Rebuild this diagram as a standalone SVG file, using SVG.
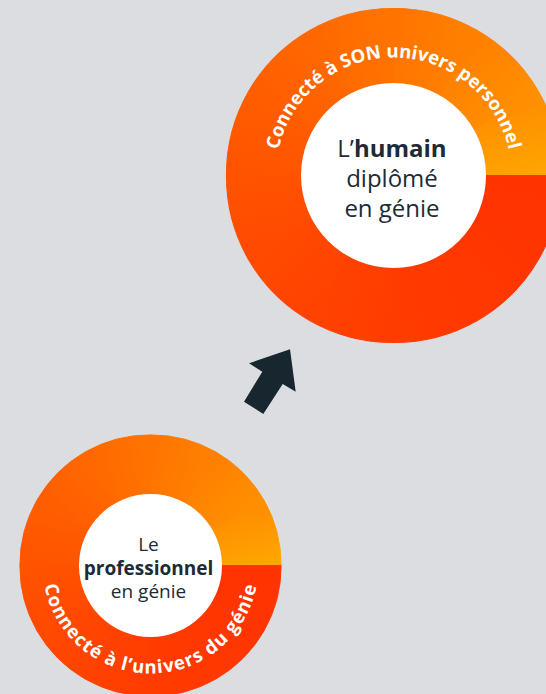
<svg xmlns="http://www.w3.org/2000/svg" xmlns:xlink="http://www.w3.org/1999/xlink" width="546" height="694" viewBox="0 0 546 694">
<style>
.center{font-family:"Open Sans","Liberation Sans",sans-serif;fill:#1c2b36;text-anchor:middle}
.b{font-weight:700}
.arc{font-family:"Open Sans","Liberation Sans",sans-serif;font-weight:700;fill:#ffffff;font-size:18.5px}
.hole{fill:#ffffff}
.w{stroke-width:0.007;stroke-linejoin:round}
</style>
<defs>
<linearGradient id="g0" gradientUnits="userSpaceOnUse" x1="0.8" y1="0" x2="0.693" y2="0.4"><stop offset="0" stop-color="#ff3300"/><stop offset="1" stop-color="#ff3500"/></linearGradient>
<linearGradient id="g1" gradientUnits="userSpaceOnUse" x1="0.693" y1="0.4" x2="0.4" y2="0.693"><stop offset="0" stop-color="#ff3500"/><stop offset="1" stop-color="#ff3800"/></linearGradient>
<linearGradient id="g2" gradientUnits="userSpaceOnUse" x1="0.4" y1="0.693" x2="0" y2="0.8"><stop offset="0" stop-color="#ff3800"/><stop offset="1" stop-color="#ff3c00"/></linearGradient>
<linearGradient id="g3" gradientUnits="userSpaceOnUse" x1="0" y1="0.8" x2="-0.4" y2="0.693"><stop offset="0" stop-color="#ff3c00"/><stop offset="1" stop-color="#ff4200"/></linearGradient>
<linearGradient id="g4" gradientUnits="userSpaceOnUse" x1="-0.4" y1="0.693" x2="-0.693" y2="0.4"><stop offset="0" stop-color="#ff4200"/><stop offset="1" stop-color="#ff4a00"/></linearGradient>
<linearGradient id="g5" gradientUnits="userSpaceOnUse" x1="-0.693" y1="0.4" x2="-0.8" y2="0"><stop offset="0" stop-color="#ff4a00"/><stop offset="1" stop-color="#ff5300"/></linearGradient>
<linearGradient id="g6" gradientUnits="userSpaceOnUse" x1="-0.8" y1="0" x2="-0.693" y2="-0.4"><stop offset="0" stop-color="#ff5300"/><stop offset="1" stop-color="#ff5d00"/></linearGradient>
<linearGradient id="g7" gradientUnits="userSpaceOnUse" x1="-0.693" y1="-0.4" x2="-0.4" y2="-0.693"><stop offset="0" stop-color="#ff5d00"/><stop offset="1" stop-color="#ff6800"/></linearGradient>
<linearGradient id="g8" gradientUnits="userSpaceOnUse" x1="-0.4" y1="-0.693" x2="0" y2="-0.8"><stop offset="0" stop-color="#ff6800"/><stop offset="1" stop-color="#ff7400"/></linearGradient>
<linearGradient id="g9" gradientUnits="userSpaceOnUse" x1="0" y1="-0.8" x2="0.4" y2="-0.693"><stop offset="0" stop-color="#ff7400"/><stop offset="1" stop-color="#ff8000"/></linearGradient>
<linearGradient id="g10" gradientUnits="userSpaceOnUse" x1="0.4" y1="-0.693" x2="0.693" y2="-0.4"><stop offset="0" stop-color="#ff8000"/><stop offset="1" stop-color="#ff8e00"/></linearGradient>
<linearGradient id="g11" gradientUnits="userSpaceOnUse" x1="0.693" y1="-0.4" x2="0.8" y2="0"><stop offset="0" stop-color="#ff8e00"/><stop offset="1" stop-color="#ffa500"/></linearGradient>
<g id="ring">
<path class="w" d="M0 0L.866 -.5A.997 .997 0 0 1 .997 0Z" fill="url(#g11)" stroke="url(#g11)"/>
<path class="w" d="M0 0L.5 -.866A.997 .997 0 0 1 .866 -.5Z" fill="url(#g10)" stroke="url(#g10)"/>
<path class="w" d="M0 0L0 -.997A.997 .997 0 0 1 .5 -.866Z" fill="url(#g9)" stroke="url(#g9)"/>
<path class="w" d="M0 0L-.5 -.866A.997 .997 0 0 1 0 -.997Z" fill="url(#g8)" stroke="url(#g8)"/>
<path class="w" d="M0 0L-.866 -.5A.997 .997 0 0 1 -.5 -.866Z" fill="url(#g7)" stroke="url(#g7)"/>
<path class="w" d="M0 0L-.997 0A.997 .997 0 0 1 -.866 -.5Z" fill="url(#g6)" stroke="url(#g6)"/>
<path class="w" d="M0 0L-.866 .5A.997 .997 0 0 1 -.997 0Z" fill="url(#g5)" stroke="url(#g5)"/>
<path class="w" d="M0 0L-.5 .866A.997 .997 0 0 1 -.866 .5Z" fill="url(#g4)" stroke="url(#g4)"/>
<path class="w" d="M0 0L0 .997A.997 .997 0 0 1 -.5 .866Z" fill="url(#g3)" stroke="url(#g3)"/>
<path class="w" d="M0 0L.5 .866A.997 .997 0 0 1 0 .997Z" fill="url(#g2)" stroke="url(#g2)"/>
<path class="w" d="M0 0L.866 .5A.997 .997 0 0 1 .5 .866Z" fill="url(#g1)" stroke="url(#g1)"/>
<path class="w" d="M0 0L.997 0A.997 .997 0 0 1 .866 .5Z" fill="url(#g0)" stroke="url(#g0)"/>
</g>
<path id="arcTop" d="M275.5 175.5A118 118 0 0 1 511.5 175.5"/>
<path id="arcBottom" d="M42.5 565.5A108 108 0 0 0 258.5 565.5"/>
</defs>
<rect x="0" y="0" width="546" height="694" fill="#dcdde0"/>
<g id="node-humain">
<use xlink:href="#ring" href="#ring" transform="translate(393.5 175.5) scale(167.5)"/>
<circle class="hole" cx="393.5" cy="175.5" r="92.5"/>
<text class="arc"><textPath xlink:href="#arcTop" href="#arcTop" startOffset="50%" text-anchor="middle">Connecté à SON univers personnel</textPath></text>
<text class="center" x="392" y="157" font-size="24">L’<tspan class="b">humain</tspan></text>
<text class="center" x="392" y="187" font-size="24">diplômé</text>
<text class="center" x="392" y="217" font-size="24">en génie</text>
</g>
<g id="node-professionnel">
<use xlink:href="#ring" href="#ring" transform="translate(150.5 565.5) scale(131)"/>
<circle class="hole" cx="150.5" cy="565.5" r="71.5"/>
<text class="arc" letter-spacing="1"><textPath xlink:href="#arcBottom" href="#arcBottom" startOffset="50%" text-anchor="middle">Connecté à l’univers du génie</textPath></text>
<text class="center" x="148.5" y="551" font-size="19">Le</text>
<text class="center b" x="148.5" y="575" font-size="19">professionnel</text>
<text class="center" x="148.5" y="598" font-size="19">en génie</text>
</g>
<g id="connectors">
<polygon points="290,349.3 295.7,391.7 282.7,384 263.3,414 244,401.7 262.3,371.7 249,363.3" fill="#18272f"/>
</g>
</svg>
